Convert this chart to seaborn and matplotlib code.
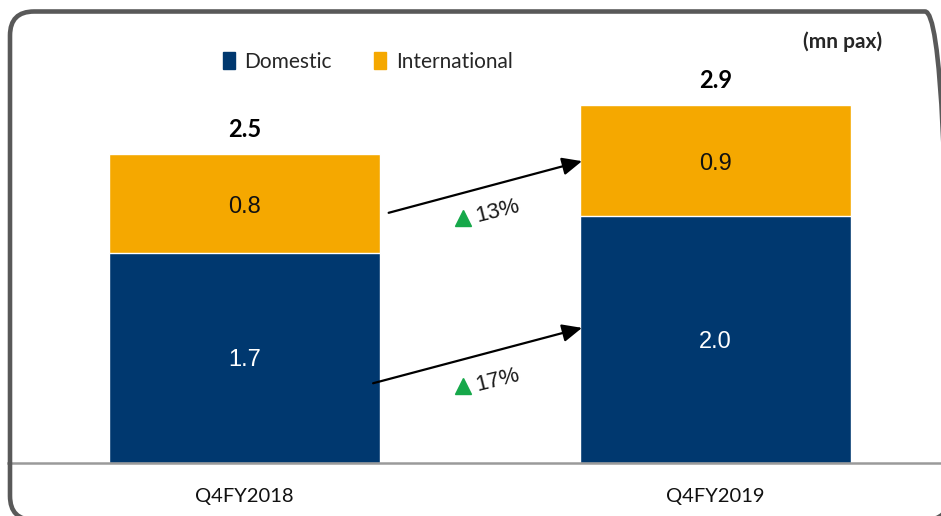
import pandas as pd
import matplotlib.pyplot as plt
import seaborn as sns
from matplotlib.patches import FancyBboxPatch, Patch
from matplotlib.transforms import IdentityTransform

quarters = ['Q4FY2018', 'Q4FY2019']
domestic = [1.7, 2.0]
international = [0.8, 0.9]
totals = [2.5, 2.9]
growth = ['13%', '17%']  # international, domestic

navy = '#00386F'
orange = '#F5A800'

sns.set_theme(style='white')
plt.rcParams['font.family'] = ['Lato', 'DejaVu Sans']

df = pd.DataFrame({'quarter': quarters, 'domestic': domestic,
                   'international': international, 'total': totals})

fig = plt.figure(figsize=(9.41, 5.16), dpi=100)
ax = fig.add_axes([8 / 941, 1 - 463 / 516, 1 - 8 / 941, (463 - 12) / 516])

sns.barplot(data=df, x='quarter', y='total', color=orange, width=0.575,
            saturation=1, ax=ax)
sns.barplot(data=df, x='quarter', y='domestic', color=navy, width=0.575,
            saturation=1, ax=ax)

ax.set_xlim(-0.502, 1.479)
ax.set_ylim(0, (463 - 12) / 123.5)
ax.set_xlabel('')
ax.set_ylabel('')
ax.set_yticks([])
ax.set_xticks([])
for s in ['top', 'right', 'left']:
    ax.spines[s].set_visible(False)
ax.spines['bottom'].set_color('#9a9a9a')
ax.spines['bottom'].set_linewidth(1.8)

# labels
for i, q in enumerate(quarters):
    ax.text(i, -0.275, q, ha='center', va='center', fontsize=14.5, color='#111111')
    ax.text(i, domestic[i] / 2 - 0.02, f'{domestic[i]:.1f}', ha='center', va='center',
            fontsize=17, color='white', family='Liberation Sans')
    ax.text(i, domestic[i] + international[i] / 2 - 0.03, f'{international[i]:.1f}',
            ha='center', va='center', fontsize=17, color='#111111',
            family='Liberation Sans')
    ax.text(i, totals[i] + 0.2, f'{totals[i]:.1f}', ha='center', va='center',
            fontsize=17, fontweight='bold', color='black')

# growth arrows
hw = 0.575 / 2
segs = [(domestic[0] + international[0] / 2 - 0.08, domestic[1] + international[1] / 2),
        (domestic[0] / 2 - 0.21, domestic[1] / 2 + 0.1)]
starts_x = [hw + 0.013, hw - 0.02]
for k, (y0, y1) in enumerate(segs):
    ax.annotate('', xy=(1 - hw + 0.01, y1), xytext=(starts_x[k], y0),
                arrowprops=dict(arrowstyle='-|>,head_length=1.0,head_width=0.45',
                                color='black', lw=1.6))
    ym = (y0 + y1) / 2 - 0.2
    ax.plot(0.465, ym - 0.05, marker='^', color='#16A84A', markersize=11, ls='none')
    ax.text(0.487, ym, growth[k], rotation=14, ha='left', va='center',
            fontsize=16, color='#1a1a1a', family='Liberation Sans')

# legend
handles = [Patch(color=navy, label='Domestic'), Patch(color=orange, label='International')]
fig.legend(handles=handles, loc='center left', bbox_to_anchor=(204 / 941, 1 - 62 / 516),
           ncol=2, frameon=False, fontsize=15, handlelength=0.6, handleheight=0.9,
           handletextpad=0.45, columnspacing=2.0)

fig.text(843 / 941, 1 - 42 / 516, '(mn pax)', ha='center', va='center',
         fontsize=15, fontweight='bold')

# rounded frame (pixel coordinates)
frame = FancyBboxPatch((10, -4), 939, 508.5,
                       boxstyle='round,pad=0,rounding_size=24',
                       transform=IdentityTransform(), fill=False,
                       edgecolor='#595959', linewidth=3.3, clip_on=False)
fig.patches.append(frame)

fig.savefig('out.png', dpi=100)
